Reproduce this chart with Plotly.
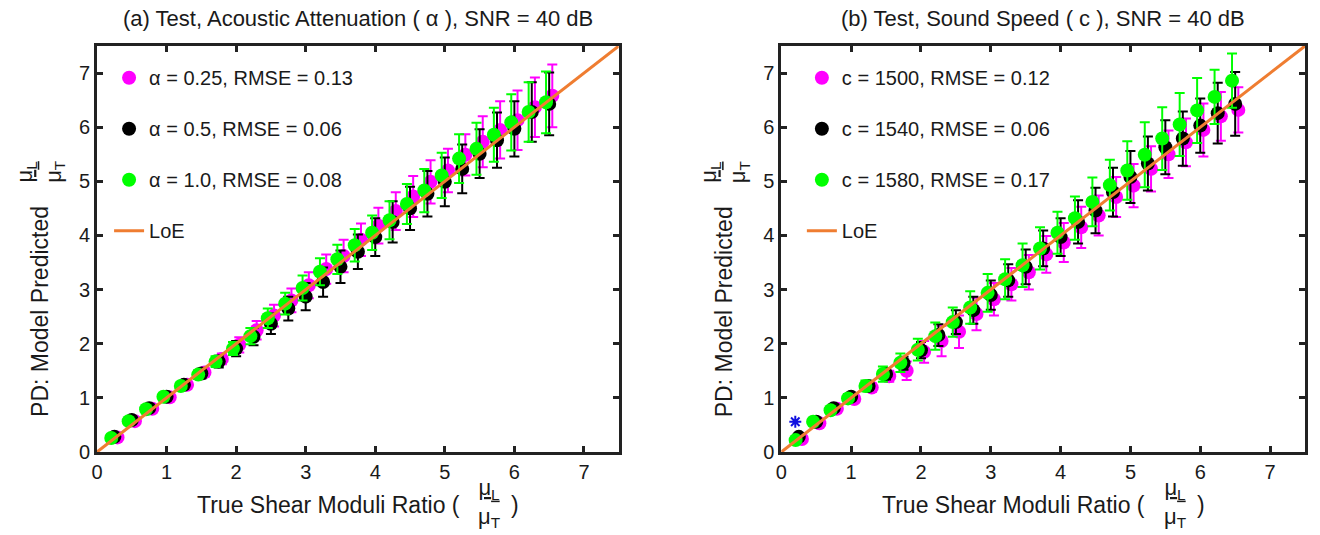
import plotly.graph_objects as go

# ---------------- data ----------------
x_true = [0.25, 0.5, 0.75, 1.0, 1.25, 1.5, 1.75, 2.0, 2.25, 2.5, 2.75, 3.0, 3.25,
          3.5, 3.75, 4.0, 4.25, 4.5, 4.75, 5.0, 5.25, 5.5, 5.75, 6.0, 6.25, 6.5]

# (a) acoustic attenuation
a_mag_y = [0.27, 0.57, 0.80, 1.01, 1.24, 1.47, 1.72, 1.98, 2.25, 2.52, 2.80, 3.08, 3.38,
           3.62, 3.92, 4.18, 4.45, 4.72, 4.99, 5.20, 5.49, 5.73, 5.95, 6.13, 6.37, 6.58]
a_mag_e = [0.03, 0.04, 0.05, 0.06, 0.07, 0.08, 0.10, 0.14, 0.17, 0.20, 0.22, 0.24, 0.27,
           0.30, 0.30, 0.33, 0.35, 0.38, 0.40, 0.40, 0.38, 0.47, 0.53, 0.55, 0.55, 0.58]
a_blk_y = [0.28, 0.59, 0.81, 1.02, 1.24, 1.45, 1.67, 1.91, 2.13, 2.37, 2.65, 2.87, 3.14,
           3.42, 3.70, 3.97, 4.25, 4.50, 4.77, 4.99, 5.23, 5.51, 5.76, 5.97, 6.28, 6.43]
a_blk_e = [0.03, 0.04, 0.05, 0.06, 0.07, 0.09, 0.11, 0.14, 0.16, 0.19, 0.22, 0.25, 0.27,
           0.30, 0.32, 0.35, 0.38, 0.40, 0.42, 0.45, 0.45, 0.45, 0.51, 0.51, 0.55, 0.58]
a_grn_y = [0.26, 0.57, 0.79, 1.02, 1.22, 1.43, 1.67, 1.91, 2.14, 2.47, 2.74, 3.03, 3.33,
           3.56, 3.82, 4.05, 4.28, 4.58, 4.83, 5.11, 5.42, 5.60, 5.86, 6.09, 6.28, 6.46]
a_grn_e = [0.03, 0.04, 0.05, 0.06, 0.07, 0.08, 0.10, 0.12, 0.15, 0.18, 0.20, 0.23, 0.25,
           0.27, 0.30, 0.32, 0.35, 0.37, 0.40, 0.42, 0.45, 0.48, 0.50, 0.52, 0.55, 0.57]
a_names = ["α = 0.25, RMSE = 0.13", "α = 0.5, RMSE = 0.06", "α = 1.0, RMSE = 0.08"]

# (b) sound speed
b_mag_y = [0.24, 0.53, 0.80, 0.98, 1.19, 1.40, 1.50, 1.85, 2.05, 2.22, 2.55, 2.82, 3.10,
           3.32, 3.65, 3.87, 4.15, 4.37, 4.71, 4.92, 5.23, 5.50, 5.72, 5.95, 6.20, 6.32]
b_mag_e = [0.03, 0.04, 0.05, 0.06, 0.08, 0.10, 0.17, 0.20, 0.28, 0.30, 0.30, 0.30, 0.30,
           0.32, 0.34, 0.36, 0.38, 0.37, 0.37, 0.40, 0.42, 0.44, 0.44, 0.49, 0.45, 0.42]
b_blk_y = [0.28, 0.56, 0.81, 1.02, 1.22, 1.44, 1.64, 1.88, 2.16, 2.40, 2.62, 2.90, 3.17,
           3.42, 3.76, 3.97, 4.25, 4.46, 4.80, 5.08, 5.33, 5.63, 5.79, 6.03, 6.26, 6.43]
b_blk_e = [0.03, 0.04, 0.05, 0.06, 0.08, 0.10, 0.12, 0.15, 0.20, 0.22, 0.25, 0.27, 0.30,
           0.32, 0.33, 0.35, 0.40, 0.42, 0.45, 0.48, 0.50, 0.50, 0.50, 0.50, 0.56, 0.59]
b_grn_y = [0.22, 0.56, 0.77, 0.99, 1.22, 1.44, 1.65, 1.89, 2.14, 2.40, 2.67, 2.94, 3.19,
           3.45, 3.76, 4.05, 4.32, 4.62, 4.93, 5.20, 5.49, 5.79, 6.05, 6.31, 6.56, 6.86]
b_grn_e = [0.03, 0.05, 0.06, 0.08, 0.10, 0.14, 0.17, 0.20, 0.25, 0.27, 0.30, 0.35, 0.37,
           0.40, 0.39, 0.39, 0.40, 0.45, 0.47, 0.54, 0.60, 0.58, 0.58, 0.60, 0.50, 0.50]
b_names = ["c = 1500, RMSE = 0.12", "c = 1540, RMSE = 0.06", "c = 1580, RMSE = 0.17"]

loe_x = [0, 7.5]
loe_y = [0, 7.5]
star_x = [0.2]
star_y = [0.56]

titles = ["(a) Test, Acoustic Attenuation ( α ), SNR = 40 dB",
          "(b) Test, Sound Speed ( c ), SNR = 40 dB"]
tick_vals = [0, 1, 2, 3, 4, 5, 6, 7]

# ---------------- style ----------------
FONT = "Liberation Sans, Arial, sans-serif"
TXT = "#1a1a1a"
colors = ["#FF00FF", "#000000", "#00FF00"]
offsets = [0.045, 0.0, -0.045]
LOE_COLOR = "#EF7D31"
FRAC = "<u>μ<sub>L</sub></u><br>μ<sub>T</sub>"

fig = go.Figure()

panels = [
    (a_names, [a_mag_y, a_blk_y, a_grn_y], [a_mag_e, a_blk_e, a_grn_e], "x", "y", "legend"),
    (b_names, [b_mag_y, b_blk_y, b_grn_y], [b_mag_e, b_blk_e, b_grn_e], "x2", "y2", "legend2"),
]

for names, ys, es, xa, ya, lg in panels:
    for k in range(3):
        fig.add_trace(go.Scatter(
            x=[v + offsets[k] for v in x_true], y=ys[k],
            mode="markers", name=names[k], xaxis=xa, yaxis=ya, legend=lg,
            legendgroup=lg + str(k),
            marker=dict(color=colors[k], size=14, line=dict(width=0)),
            error_y=dict(type="data", array=es[k], visible=True,
                         color=colors[k], thickness=2, width=5),
        ))
    fig.add_trace(go.Scatter(
        x=loe_x, y=loe_y, mode="lines", name="LoE", xaxis=xa, yaxis=ya, legend=lg,
        legendgroup=lg + "loe",
        line=dict(color=LOE_COLOR, width=3), cliponaxis=False,
    ))

fig.add_trace(go.Scatter(
    x=star_x, y=star_y, mode="markers", showlegend=False, xaxis="x2", yaxis="y2",
    marker=dict(symbol="asterisk-open", size=10, color="#1010E0",
                line=dict(color="#1010E0", width=2)),
))

axis_common = dict(
    range=[0, 7.5], tickvals=tick_vals, ticks="inside", ticklen=6, tickwidth=2.5,
    tickcolor="#222222", showline=True, linewidth=3, linecolor="#222222",
    mirror="ticks", showgrid=False, zeroline=False,
    tickfont=dict(family=FONT, size=20, color=TXT),
)

fig.update_layout(
    width=1320, height=535,
    margin=dict(l=97, r=12, t=46, b=83),
    paper_bgcolor="white", plot_bgcolor="white",
    xaxis=dict(domain=[0, 0.4319], anchor="y", **axis_common),
    yaxis=dict(domain=[0, 1], anchor="x", **axis_common),
    xaxis2=dict(domain=[0.5665, 1.0], anchor="y2", **axis_common),
    yaxis2=dict(domain=[0, 1], anchor="x2", **axis_common),
    legend=dict(x=0.010, y=0.97, xanchor="left", yanchor="top",
                bgcolor="rgba(0,0,0,0)", tracegroupgap=22,
                font=dict(family=FONT, size=20, color=TXT)),
    legend2=dict(x=0.5835, y=0.97, xanchor="left", yanchor="top",
                 bgcolor="rgba(0,0,0,0)", tracegroupgap=22,
                 font=dict(family=FONT, size=20, color=TXT)),
    showlegend=True,
)

ann = []
for i, (xa, ya) in enumerate([("x", "y"), ("x2", "y2")]):
    xd = xa + " domain"
    yd = ya + " domain"
    ann.append(dict(text=titles[i], xref=xd, yref=yd, x=0.5, y=1.0, yshift=28,
                    xanchor="center", yanchor="middle",
                    showarrow=False, font=dict(family=FONT, size=22, color=TXT)))
    # x title
    ann.append(dict(text="True Shear Moduli Ratio (", xref=xd, yref=yd, x=0.4436, y=0,
                    yshift=-53, xanchor="center", yanchor="middle",
                    showarrow=False, font=dict(family=FONT, size=23, color=TXT)))
    ann.append(dict(text=FRAC, xref=xd, yref=yd,
                    x=0.752, y=0, yshift=-51, xanchor="center", yanchor="middle",
                    showarrow=False, font=dict(family=FONT, size=22, color=TXT)))
    ann.append(dict(text=")", xref=xd, yref=yd, x=0.802, y=0, yshift=-53,
                    xanchor="center", yanchor="middle",
                    showarrow=False, font=dict(family=FONT, size=23, color=TXT)))
    # y title
    ann.append(dict(text="PD: Model Predicted", xref=xd, yref=yd, x=0, xshift=-57,
                    y=0.345, textangle=-90, xanchor="center", yanchor="middle",
                    showarrow=False, font=dict(family=FONT, size=23, color=TXT)))
    ann.append(dict(text=FRAC, xref=xd, yref=yd,
                    x=0, xshift=-57, y=0.69, textangle=-90,
                    xanchor="center", yanchor="middle", showarrow=False,
                    font=dict(family=FONT, size=22, color=TXT)))
fig.update_layout(annotations=ann)

fig.write_html("out.html")
